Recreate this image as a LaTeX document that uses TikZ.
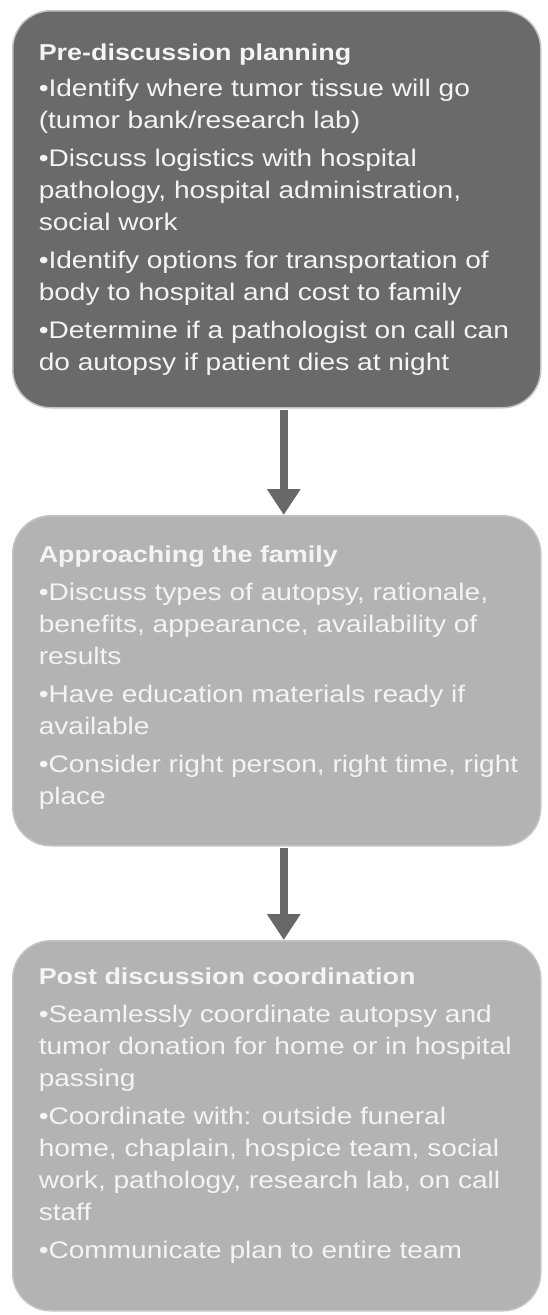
\documentclass[tikz,border=0pt]{standalone}
\usepackage{fontspec}
\setmainfont[FakeStretch=1.17]{Liberation Sans}
\usetikzlibrary{arrows.meta}
\definecolor{darkfill}{HTML}{6A6A6A}
\definecolor{lightfill}{HTML}{B3B3B3}
\definecolor{edgegray}{HTML}{C4C4C4}
\definecolor{arrowgray}{HTML}{686868}
\definecolor{txtwhite}{HTML}{F4F4F4}
\newcommand{\boxtext}[3]{\hspace*{26pt}\begin{minipage}[c][#1][t]{500pt}\raggedright\rule{0pt}{#2}#3\end{minipage}\hspace*{2pt}}
\newcommand{\boxtitle}[1]{{\fontsize{23}{32}\selectfont\bfseries #1}}
\tikzset{
  stagebox/.style={rectangle, rounded corners=38pt, inner sep=0pt, draw=edgegray, line width=1.5pt,
    text=txtwhite, font=\fontsize{24}{32}\selectfont, anchor=north west},
  flowarrow/.style={draw=arrowgray, line width=8pt, -{Triangle[width=32pt,length=26pt]}, shorten <=1pt}
}
\begin{document}
\begin{tikzpicture}
\useasboundingbox (0,0) rectangle (547pt,-1315pt);
\node[stagebox, fill=darkfill] (b1) at (12pt,-10pt) {\boxtext{397pt}{50pt}{%
\boxtitle{Pre-discussion planning}\\[4pt]
•Identify where tumor tissue will go\\
(tumor bank/research lab)\\[6pt]
•Discuss logistics with hospital\\
pathology, hospital administration,\\
social work\\[6pt]
•Identify options for transportation of\\
body to hospital and cost to family\\[6pt]
•Determine if a pathologist on call can\\
do autopsy if patient dies at night}};
\node[stagebox, fill=lightfill] (b2) at (12pt,-515pt) {\boxtext{330pt}{47pt}{%
\boxtitle{Approaching the family}\\[6pt]
•Discuss types of autopsy, rationale,\\
benefits, appearance, availability of\\
results\\[6pt]
•Have education materials ready if\\
available\\[6pt]
•Consider right person, right time, right\\
place}};
\node[stagebox, fill=lightfill] (b3) at (12pt,-940pt) {\boxtext{370pt}{44pt}{%
\boxtitle{Post discussion coordination}\\[6pt]
•Seamlessly coordinate autopsy and\\
tumor donation for home or in hospital\\
passing\\[6pt]
•Coordinate with: outside funeral\\
home, chaplain, hospice team, social\\
work, pathology, research lab, on call\\
staff\\[6pt]
•Communicate plan to entire team}};
\draw[flowarrow] ([xshift=7pt]b1.south) -- ([xshift=7pt]b2.north);
\draw[flowarrow] ([xshift=7pt]b2.south) -- ([xshift=7pt]b3.north);
\end{tikzpicture}
\end{document}
